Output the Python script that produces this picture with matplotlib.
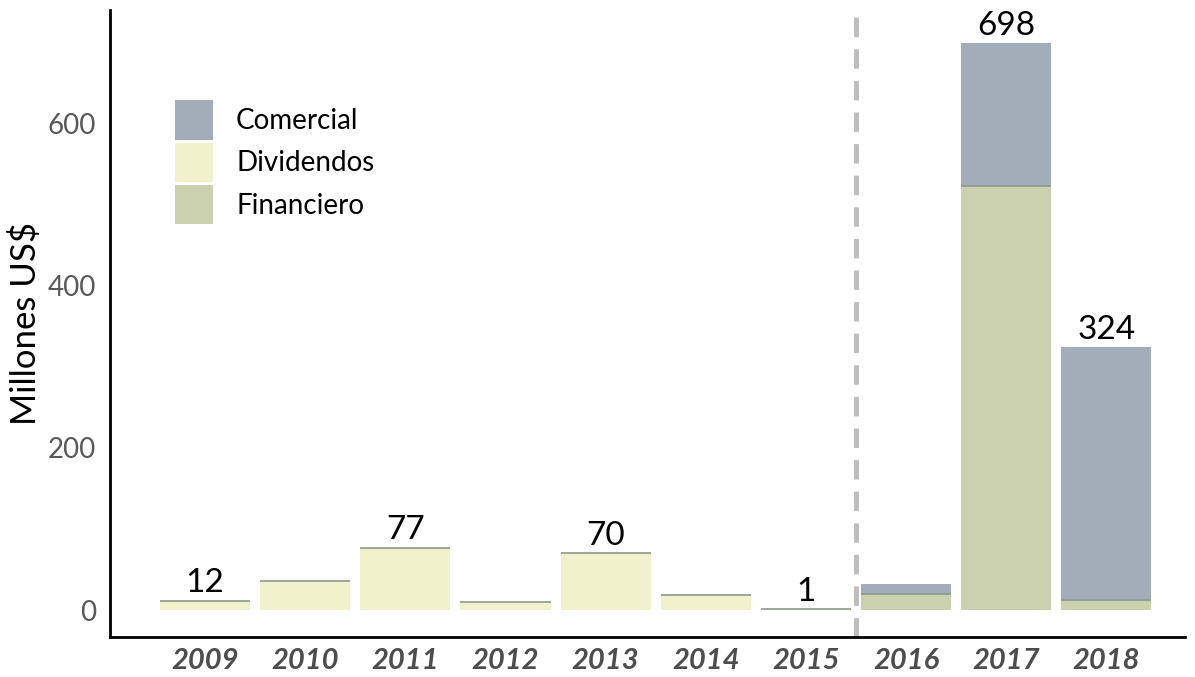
import matplotlib
matplotlib.use("Agg")
import matplotlib.pyplot as plt
from matplotlib.patches import Patch
import numpy as np

years = ["2009", "2010", "2011", "2012", "2013", "2014", "2015", "2016", "2017", "2018"]
dividendos = [12, 36, 77, 10, 70, 19, 1, 0, 0, 0]
financiero = [0, 0, 0, 0, 0, 0, 0, 20, 522, 13]
comercial = [0, 0, 0, 0, 0, 0, 0, 12, 176, 311]
label_years = ["2009", "2011", "2013", "2015", "2017", "2018"]
label_values = [12, 77, 70, 1, 698, 324]

plt.rcParams['font.family'] = ['Lato', 'DejaVu Sans']

c_com = "#a3adb9"
c_div = "#f0f2cc"
c_fin = "#cbd1ae"
c_edge = "#8d978f"

fig = plt.figure(figsize=(11.95, 6.77), dpi=100)
ax = fig.add_axes([0.092, 0.059, 0.9, 0.926])

x = np.arange(len(years))
w = 0.9
div = np.array(dividendos)
fin = np.array(financiero)
com = np.array(comercial)

ax.bar(x, div, w, color=c_div, edgecolor='none', zorder=2)
ax.bar(x, fin, w, color=c_fin, edgecolor='none', zorder=2)
ax.bar(x, com, w, bottom=fin, color=c_com, edgecolor='none', zorder=2)

# thin top edge lines on segments
for i in range(len(years)):
    tops = []
    if div[i] > 0:
        tops.append(div[i])
    if fin[i] > 0:
        tops.append(fin[i])
    for t in tops:
        ax.hlines(t, x[i] - w / 2, x[i] + w / 2, colors=c_edge, linewidth=1.2, zorder=3)

for yr, v in zip(label_years, label_values):
    i = years.index(yr)
    ax.text(x[i], v + 3, str(v), ha='center', va='bottom', fontsize=24, color='black')

ax.axvline(6.5, color='#bdbdbd', linestyle=(0, (4, 2.5)), linewidth=3.5, zorder=1)

ax.set_xlim(-0.95, 9.79)
ax.set_ylim(-33, 739)
ax.set_yticks([0, 200, 400, 600])
ax.set_xticks(x)
ax.set_xticklabels(years, fontsize=21, fontweight='bold', fontstyle='italic', color='#4d4d4d')
ax.tick_params(axis='y', labelsize=20, labelcolor='#595959', length=0, pad=10)
ax.tick_params(axis='x', length=0, pad=8)
ax.set_ylabel("Millones US$", fontsize=25, color='black', labelpad=4)

for s in ['top', 'right']:
    ax.spines[s].set_visible(False)
for s in ['left', 'bottom']:
    ax.spines[s].set_linewidth(2)
    ax.spines[s].set_color('black')

handles = [Patch(facecolor=c_com, edgecolor='none', label='Comercial'),
           Patch(facecolor=c_div, edgecolor='none', label='Dividendos'),
           Patch(facecolor=c_fin, edgecolor='none', label='Financiero')]
leg = ax.legend(handles=handles, loc='upper left', bbox_to_anchor=(0.0605, 0.856),
                frameon=False, fontsize=20, handlelength=1.37, handleheight=1.81,
                labelspacing=0.1, handletextpad=0.83, borderaxespad=0, borderpad=0)

fig.savefig("out.png", dpi=100)
